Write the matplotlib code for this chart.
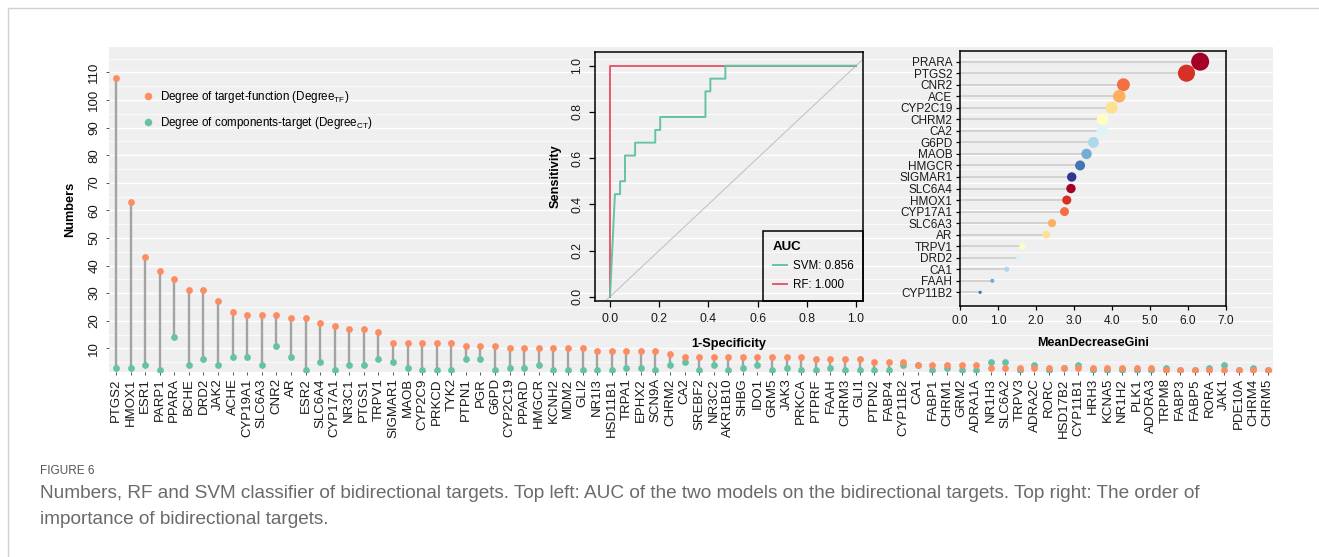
import matplotlib
matplotlib.use("Agg")
import matplotlib.pyplot as plt
import numpy as np
from matplotlib.lines import Line2D

plt.rcParams['font.family'] = ['Liberation Sans', 'DejaVu Sans']
plt.rcParams['mathtext.fontset'] = 'custom'
plt.rcParams['mathtext.rm'] = 'Liberation Sans'
plt.rcParams['mathtext.it'] = 'Liberation Sans:italic'
plt.rcParams['mathtext.bf'] = 'Liberation Sans:bold'

# ---------------- data ----------------
genes = ["PTGS2", "HMOX1", "ESR1", "PARP1", "PPARA", "BCHE", "DRD2", "JAK2", "ACHE", "CYP19A1",
         "SLC6A3", "CNR2", "AR", "ESR2", "SLC6A4", "CYP17A1", "NR3C1", "PTGS1", "TRPV1", "SIGMAR1",
         "MAOB", "CYP2C9", "PRKCD", "TYK2", "PTPN1", "PGR", "G6PD", "CYP2C19", "PPARD", "HMGCR",
         "KCNH2", "MDM2", "GLI2", "NR1I3", "HSD11B1", "TRPA1", "EPHX2", "SCN9A", "CHRM2", "CA2",
         "SREBF2", "NR3C2", "AKR1B10", "SHBG", "IDO1", "GRM5", "JAK3", "PRKCA", "PTPRF", "FAAH",
         "CHRM3", "GLI1", "PTPN2", "FABP4", "CYP11B2", "CA1", "FABP1", "CHRM1", "GRM2", "ADRA1A",
         "NR1H3", "SLC6A2", "TRPV3", "ADRA2C", "RORC", "HSD17B2", "CYP11B1", "HRH3", "KCNA5", "NR1H2",
         "PLK1", "ADORA3", "TRPM8", "FABP3", "FABP5", "RORA", "JAK1", "PDE10A", "CHRM4", "CHRM5"]
degree_tf = [108, 63, 43, 38, 35, 31, 31, 27, 23, 22,
             22, 22, 21, 21, 19, 18, 17, 17, 16, 12,
             12, 12, 12, 12, 11, 11, 11, 10, 10, 10,
             10, 10, 10, 9, 9, 9, 9, 9, 8, 7,
             7, 7, 7, 7, 7, 7, 7, 7, 6, 6,
             6, 6, 5, 5, 5, 4, 4, 4, 4, 4,
             3, 3, 3, 3, 3, 3, 3, 3, 3, 3,
             3, 3, 2, 2, 2, 2, 2, 2, 2, 2]
degree_ct = [3, 3, 4, 2, 14, 4, 6, 4, 7, 7,
             4, 11, 7, 2, 5, 2, 4, 4, 6, 5,
             3, 2, 2, 2, 6, 6, 2, 3, 3, 4,
             2, 2, 2, 2, 2, 3, 3, 2, 4, 5,
             2, 4, 2, 3, 4, 2, 3, 2, 2, 3,
             2, 2, 2, 2, 4, 4, 2, 3, 2, 2,
             5, 5, 2, 4, 2, 3, 4, 2, 2, 2,
             2, 2, 3, 2, 2, 3, 4, 2, 3, 2]

fpr_svm = [0.0, 0.020, 0.041, 0.041, 0.061, 0.061, 0.102, 0.102, 0.184, 0.184,
           0.204, 0.204, 0.388, 0.388, 0.408, 0.408, 0.469, 0.469, 1.0]
tpr_svm = [0.0, 0.444, 0.444, 0.500, 0.500, 0.611, 0.611, 0.667, 0.667, 0.722,
           0.722, 0.778, 0.778, 0.889, 0.889, 0.944, 0.944, 1.0, 1.0]
fpr_rf = [0.0, 0.0, 1.0]
tpr_rf = [0.0, 1.0, 1.0]
auc_labels = ["SVM: 0.856", "RF: 1.000"]

gini_genes = ["PRARA", "PTGS2", "CNR2", "ACE", "CYP2C19", "CHRM2", "CA2", "G6PD", "MAOB", "HMGCR",
              "SIGMAR1", "SLC6A4", "HMOX1", "CYP17A1", "SLC6A3", "AR", "TRPV1", "DRD2", "CA1", "FAAH",
              "CYP11B2"]
gini_values = [6.32, 5.96, 4.30, 4.19, 3.99, 3.75, 3.74, 3.51, 3.33, 3.16,
               2.94, 2.92, 2.81, 2.75, 2.42, 2.27, 1.64, 1.56, 1.23, 0.85,
               0.53]

caption_title = "FIGURE 6"
caption_lines = ["Numbers, RF and SVM classifier of bidirectional targets. Top left: AUC of the two models on the bidirectional targets. Top right: The order of",
                 "importance of bidirectional targets."]

# ---------------- style ----------------
C_TF = "#FC8D62"
C_CT = "#66C2A5"
C_RF = "#E65A6C"
PANEL = "#EFEFEF"
RDYLBU = ['#a50026', '#d73027', '#f46d43', '#fdae61', '#fee090', '#ffffbf',
          '#e0f3f8', '#abd9e9', '#74add1', '#4575b4', '#313695']

W, H = 1319, 557
fig = plt.figure(figsize=(W / 100, H / 100), dpi=100)


def ax_px(l, t, r, b, **kw):
    return fig.add_axes([l / W, 1 - b / H, (r - l) / W, (b - t) / H], **kw)


# ---------------- main lollipop ----------------
ax = ax_px(109.3, 46.7, 1273, 372)
ax.set_facecolor(PANEL)
for s in ax.spines.values():
    s.set_visible(False)
x = np.arange(len(genes))
ax.set_xlim(-0.46, len(genes) - 0.64)
ax.set_ylim(1.41, 119.3)
ax.set_yticks(np.arange(10, 111, 10))
ax.set_yticks(np.arange(5, 120, 10), minor=True)
ax.grid(axis='y', which='major', color='white', lw=1.0)
ax.grid(axis='y', which='minor', color='white', lw=0.5)
ax.set_axisbelow(True)
ax.vlines(x, degree_ct, degree_tf, color='#A3A3A3', lw=1.7, zorder=2)
ax.scatter(x, degree_ct, s=24, color=C_CT, linewidths=0, zorder=3)
ax.scatter(x, degree_tf, s=24, color=C_TF, linewidths=0, zorder=4)
ax.set_xticks(x)
ax.set_xticklabels(genes, rotation=90, fontsize=9.5, color='#1a1a1a')
ax.tick_params(axis='x', length=2.5, width=0.7, color='#555555', pad=2)
ax.tick_params(axis='y', which='major', length=2.5, width=0.7, color='#555555', pad=4,
               labelsize=9.5, labelcolor='#1a1a1a')
ax.tick_params(axis='y', which='minor', length=0)
for lab in ax.get_yticklabels():
    lab.set_rotation(90)
    lab.set_va('center')
ax.set_ylabel("Numbers", fontsize=9.2, fontweight='bold', labelpad=9)

handles = [Line2D([], [], marker='o', ls='', color=C_TF, markersize=5.4, markeredgewidth=0),
           Line2D([], [], marker='o', ls='', color=C_CT, markersize=5.4, markeredgewidth=0)]
ax.legend(handles, ["Degree of target-function (Degree$_{\\mathrm{TF}}$)",
                    "Degree of components-target (Degree$_{\\mathrm{CT}}$)"],
          loc='upper left', bbox_to_anchor=(137 / W, 1 - 83 / H), bbox_transform=fig.transFigure,
          frameon=False, handlelength=0.85, handletextpad=0.6, labelspacing=0.85, borderpad=0,
          fontsize=8.4)

# ---------------- ROC inset ----------------
ax2 = ax_px(595, 51.7, 863.3, 300.7)
ax2.set_facecolor('none')
ax2.set_xlim((595 - 610) / 246, (863.3 - 610) / 246)
ax2.set_ylim((296.7 - 300.7) / 231, (296.7 - 51.7) / 231)
for s in ax2.spines.values():
    s.set_linewidth(1.1)
    s.set_color('black')
ax2.axline((0, 0), (1, 1), color='#C4C4C4', lw=0.8, zorder=1)
ax2.plot(fpr_rf, tpr_rf, color=C_RF, lw=1.4, zorder=2)
ax2.plot(fpr_svm, tpr_svm, color=C_CT, lw=1.4, zorder=3)
ticks = np.arange(0, 1.01, 0.2)
ax2.set_xticks(ticks, [f"{t:.1f}" for t in ticks])
ax2.set_yticks(ticks, [f"{t:.1f}" for t in ticks])
ax2.tick_params(length=4.2, width=0.9, labelsize=8.8, color='black', labelcolor='#1a1a1a')
ax2.tick_params(axis='x', pad=5)
ax2.tick_params(axis='y', pad=4)
for lab in ax2.get_yticklabels():
    lab.set_rotation(90)
    lab.set_va('center')
ax2.set_xlabel("1-Specificity", fontsize=9.2, fontweight='bold', labelpad=9)
ax2.set_ylabel("Sensitivity", fontsize=9.2, fontweight='bold', labelpad=7)
lh = [Line2D([], [], color=C_CT, lw=1.4), Line2D([], [], color=C_RF, lw=1.4)]
leg = ax2.legend(lh, auc_labels, title="AUC", loc='lower right', borderaxespad=0,
                 fancybox=False, edgecolor='black', facecolor='none', framealpha=1,
                 fontsize=8.4, title_fontproperties={'weight': 'bold', 'size': 9.5},
                 handlelength=1.2, handletextpad=0.5, labelspacing=0.6, borderpad=0.85,
                 alignment='left')
leg.get_frame().set_linewidth(1.1)

# ---------------- Gini inset ----------------
ax3 = ax_px(960, 50.7, 1226, 305.7)
ax3.set_facecolor('none')
n = len(gini_genes)
rows = np.arange(n, 0, -1)
ax3.set_xlim(0, 7)
ax3.set_ylim(-0.16, n + 0.95)
for s in ax3.spines.values():
    s.set_linewidth(1.1)
    s.set_color('black')
ax3.hlines(rows, 0, gini_values, color='#CDCDCD', lw=1.2, zorder=2)
diam_pt = (1.95 + 2.54 * np.array(gini_values)) * 0.72
cols = [RDYLBU[i % len(RDYLBU)] for i in range(n)]
ax3.scatter(gini_values, rows, s=diam_pt ** 2, c=cols, linewidths=0, zorder=3)
ax3.set_yticks(rows, gini_genes)
xt = np.arange(0, 8)
ax3.set_xticks(xt, [f"{t:.1f}" for t in xt])
ax3.tick_params(length=3, width=0.9, color='black', labelcolor='#1a1a1a')
ax3.tick_params(axis='y', labelsize=8.5, pad=2.5)
ax3.tick_params(axis='x', labelsize=8.6, pad=4)
ax3.set_xlabel("MeanDecreaseGini", fontsize=9.0, fontweight='bold', labelpad=7)

# ---------------- caption & frame ----------------
fig.text(40 / W, 1 - 471 / H, caption_title, fontsize=8.5, color='#555555', va='center')
fig.text(40 / W, 1 - 493 / H, caption_lines[0], fontsize=13.7, color='#6a6a6a', va='center')
fig.text(40 / W, 1 - 519 / H, caption_lines[1], fontsize=13.7, color='#6a6a6a', va='center')
fig.add_artist(Line2D([8 / W, 1], [1 - 8 / H, 1 - 8 / H], transform=fig.transFigure,
                      color='#D0D0D0', lw=1))
fig.add_artist(Line2D([8 / W, 8 / W], [0, 1 - 8 / H], transform=fig.transFigure,
                      color='#D0D0D0', lw=1))

fig.savefig("out.png", dpi=100)
